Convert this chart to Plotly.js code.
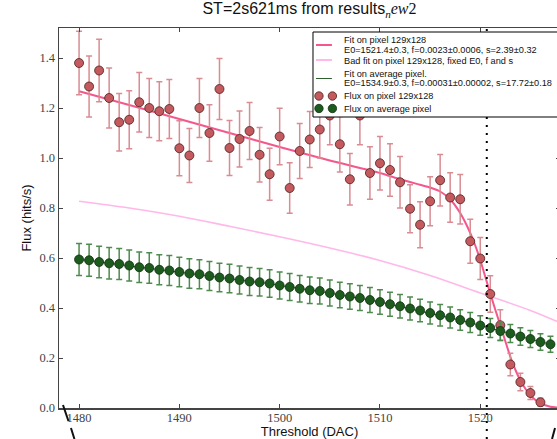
<!DOCTYPE html>
<html>
<head>
<meta charset="utf-8">
<script src="https://cdn.plot.ly/plotly-3.0.1.min.js"></script>
<style>
html, body { margin: 0; padding: 0; overflow: hidden; background: #fff; }
#chart { width: 562px; height: 439px; }
</style>
</head>
<body>
<div id="chart"></div>
<script>
// Data
var thresholdPixel = [1480,1481,1482,1483,1484,1485,1486,1487,1488,1489,
  1490,1491,1492,1493,1494,1495,1496,1497,1498,1499,
  1500,1501,1502,1503,1504,1505,1506,1507,1508,1509,
  1510,1511,1512,1513,1514,1515,1516,1517,1518,1519,
  1520,1521,1522,1523,1524,1525,1526];
var fluxPixel = [1.38,1.286,1.35,1.24,1.143,1.153,1.223,1.20,1.187,1.196,
  1.039,1.01,1.20,1.10,1.276,1.04,1.076,1.108,1.013,0.935,
  1.086,0.88,1.028,1.074,1.114,1.17,1.055,0.915,1.17,0.94,
  0.979,0.952,0.903,0.797,0.733,0.827,0.911,0.842,0.835,0.667,
  0.598,0.456,0.331,0.174,0.104,0.06,0.023];
var fluxPixelErr = [0.127,0.122,0.125,0.12,0.115,0.116,0.119,0.118,0.118,0.118,
  0.11,0.108,0.118,0.113,0.122,0.11,0.112,0.114,0.109,0.104,
  0.113,0.101,0.11,0.112,0.114,0.117,0.111,0.103,0.117,0.105,
  0.107,0.105,0.103,0.096,0.092,0.098,0.103,0.099,0.099,0.088,
  0.084,0.073,0.062,0.045,0.035,0.026,0.016];

var thresholdAvg = [1480,1481,1482,1483,1484,1485,1486,1487,1488,1489,
  1490,1491,1492,1493,1494,1495,1496,1497,1498,1499,
  1500,1501,1502,1503,1504,1505,1506,1507,1508,1509,
  1510,1511,1512,1513,1514,1515,1516,1517,1518,1519,
  1520,1521,1522,1523,1524,1525,1526,1527];
var fluxAvg = [0.594,0.591,0.584,0.579,0.576,0.57,0.563,0.56,0.553,0.55,
  0.544,0.538,0.535,0.528,0.522,0.518,0.512,0.506,0.503,0.498,
  0.49,0.484,0.477,0.471,0.468,0.46,0.452,0.446,0.44,0.432,
  0.424,0.415,0.407,0.398,0.39,0.38,0.371,0.362,0.352,0.342,
  0.33,0.32,0.308,0.298,0.286,0.276,0.264,0.255];
var fluxAvgErr = [0.064,0.064,0.063,0.063,0.062,0.062,0.061,0.061,0.06,0.06,
  0.059,0.059,0.058,0.058,0.057,0.057,0.056,0.056,0.055,0.055,
  0.054,0.054,0.053,0.053,0.052,0.052,0.051,0.051,0.05,0.05,
  0.049,0.048,0.047,0.046,0.045,0.044,0.043,0.042,0.041,0.04,
  0.039,0.038,0.037,0.036,0.035,0.034,0.033,0.032];

var fitPixelX = [1480,1485,1490,1495,1500,1505,1510,1512,1514,1515,1516,1517,1518,1518.5,1519,1519.5,
  1520,1520.5,1521,1521.5,1522,1522.5,1523,1523.5,1524,1524.5,1525,1525.5,1526,1527,1528];
var fitPixelY = [1.267,1.212,1.156,1.100,1.044,0.99,0.94,0.915,0.893,0.882,0.866,0.835,0.78,0.743,0.70,0.65,
  0.592,0.525,0.458,0.393,0.331,0.267,0.205,0.153,0.11,0.077,0.051,0.032,0.019,0.005,0.001];

var badFitX = [1480,1485,1490,1495,1500,1505,1510,1515,1520,1525,1528];
var badFitY = [0.827,0.80,0.767,0.727,0.685,0.64,0.59,0.53,0.46,0.39,0.34];

var fitAvgX = thresholdAvg;
var fitAvgY = fluxAvg;

var markerLineX = 1520.65;

var xTicks = [1480,1490,1500,1510,1520];
var yTicks = [0.0,0.2,0.4,0.6,0.8,1.0,1.2,1.4];
var yTickText = ['0.0','0.2','0.4','0.6','0.8','1.0','1.2','1.4'];

var legendLines = [
  'Fit on pixel 129x128',
  'E0=1521.4\u00B10.3, f=0.0023\u00B10.0006, s=2.39\u00B10.32',
  'Bad fit on pixel 129x128, fixed E0, f and s',
  'Fit on average pixel.',
  'E0=1534.9\u00B10.3, f=0.00031\u00B10.00002, s=17.72\u00B10.18',
  'Flux on pixel 129x128',
  'Flux on average pixel'
];

var colFit = '#f5578c', colBad = '#ffb8e8', colAvgFit = '#2f5f2f';
var colRed = '#c45a5e', colRedEdge = '#4a2020', colGreen = '#1d5a1d', colGreenEdge = '#0f300f';

var traces = [
  {x: fitPixelX, y: fitPixelY, type: 'scatter', mode: 'lines',
   line: {color: colFit, width: 2, shape: 'spline', smoothing: 0.6}},
  {x: badFitX, y: badFitY, type: 'scatter', mode: 'lines',
   line: {color: colBad, width: 1.6, shape: 'spline'}},
  {x: fitAvgX, y: fitAvgY, type: 'scatter', mode: 'lines',
   line: {color: colAvgFit, width: 1}},
  {x: thresholdPixel, y: fluxPixel, type: 'scatter', mode: 'markers',
   marker: {color: colRed, size: 9, line: {color: colRedEdge, width: 0.8}},
   error_y: {type: 'data', array: fluxPixelErr, visible: true, color: '#d98c92', thickness: 1.5, width: 3}},
  {x: thresholdAvg, y: fluxAvg, type: 'scatter', mode: 'markers',
   marker: {color: colGreen, size: 9, line: {color: colGreenEdge, width: 0.8}},
   error_y: {type: 'data', array: fluxAvgErr, visible: true, color: '#4f8a4f', thickness: 1.5, width: 3}}
];

var L = 59, T = 28, PW = 503, PH = 380;
function px(xp) { return (xp - L) / PW; }
function py(yp) { return (T + PH - yp) / PH; }

var shapes = [
  {type: 'line', xref: 'x', yref: 'paper', x0: markerLineX, x1: markerLineX, y0: py(439), y1: 1,
   line: {color: '#000', width: 2, dash: '2px,6px'}},
  {type: 'line', xref: 'paper', yref: 'paper', x0: px(63), y0: py(405), x1: px(68.5), y1: py(421),
   line: {color: '#111', width: 2}},
  {type: 'line', xref: 'paper', yref: 'paper', x0: px(71), y0: py(428), x1: px(74.5), y1: py(439),
   line: {color: '#111', width: 2}},
  {type: 'line', xref: 'paper', yref: 'paper', x0: px(554), y0: py(439), x1: px(557), y1: py(428),
   line: {color: '#111', width: 2}},
  // legend box
  {type: 'rect', xref: 'paper', yref: 'paper', x0: px(314), y0: py(117), x1: px(600), y1: py(32),
   fillcolor: '#ffffff', line: {color: '#000', width: 1}},
  {type: 'line', xref: 'paper', yref: 'paper', x0: px(317), x1: px(333), y0: py(45), y1: py(45),
   line: {color: colFit, width: 2}},
  {type: 'line', xref: 'paper', yref: 'paper', x0: px(317), x1: px(333), y0: py(60), y1: py(60),
   line: {color: colBad, width: 2}},
  {type: 'line', xref: 'paper', yref: 'paper', x0: px(317), x1: px(333), y0: py(78.5), y1: py(78.5),
   line: {color: colAvgFit, width: 1}}
];
[[320, 96, colRed, colRedEdge], [333.5, 96, colRed, colRedEdge],
 [320, 108.5, colGreen, colGreenEdge], [333.5, 108.5, colGreen, colGreenEdge]].forEach(function (c) {
  shapes.push({type: 'circle', xref: 'paper', yref: 'paper', xsizemode: 'pixel', ysizemode: 'pixel',
    xanchor: px(c[0]), yanchor: py(c[1]), x0: -4.2, x1: 4.2, y0: -4.2, y1: 4.2,
    fillcolor: c[2], line: {color: c[3], width: 0.8}});
});

var legendTextY = [40, 49.5, 61, 74.3, 83.5, 96, 108.5];
var annotations = legendLines.map(function (t, i) {
  return {text: t, xref: 'paper', yref: 'paper', x: px(343), y: py(legendTextY[i]),
    xanchor: 'left', yanchor: 'middle', showarrow: false,
    font: {family: 'Liberation Sans, Arial, sans-serif', size: 9.2, color: '#111'}};
});

var layout = {
  width: 562, height: 439,
  margin: {l: L, r: 0, t: T, b: 439 - T - PH},
  paper_bgcolor: '#ffffff', plot_bgcolor: '#ffffff',
  showlegend: false,
  title: {
    text: 'ST=2s621ms from results<sub><i style="font-family:Liberation Serif">n</i></sub><span style="font-family:Liberation Serif"><i>ew</i>2</span>',
    font: {family: 'Liberation Sans, Arial, sans-serif', size: 16, color: '#111'},
    x: 0.5, xanchor: 'center', xref: 'paper', y: 1, yref: 'container', yanchor: 'top', pad: {t: 3}
  },
  xaxis: {
    range: [1478, 1527.95], tickvals: xTicks, ticks: 'inside', ticklen: 4, tickcolor: '#444',
    showline: true, linecolor: '#444', linewidth: 1.5, mirror: 'ticks', showgrid: false, zeroline: false,
    ticklabelstandoff: -3,
    tickfont: {family: 'Liberation Serif, serif', size: 12.5, color: '#444'},
    title: {text: 'Threshold (DAC)', font: {family: 'Liberation Sans, Arial, sans-serif', size: 13, color: '#111'}, standoff: 4}
  },
  yaxis: {
    range: [0, 1.52], tickvals: yTicks, ticktext: yTickText, ticks: 'inside', ticklen: 4, tickcolor: '#444',
    showline: true, linecolor: '#444', linewidth: 1.5, mirror: 'ticks', showgrid: false, zeroline: false,
    automargin: true,
    tickfont: {family: 'Liberation Serif, serif', size: 12.5, color: '#444'},
    title: {text: 'Flux (hits/s)', font: {family: 'Liberation Sans, Arial, sans-serif', size: 13, color: '#111'}, standoff: 5}
  },
  shapes: shapes,
  annotations: annotations
};

Plotly.newPlot('chart', traces, layout, {displayModeBar: false, staticPlot: true});
</script>
</body>
</html>
